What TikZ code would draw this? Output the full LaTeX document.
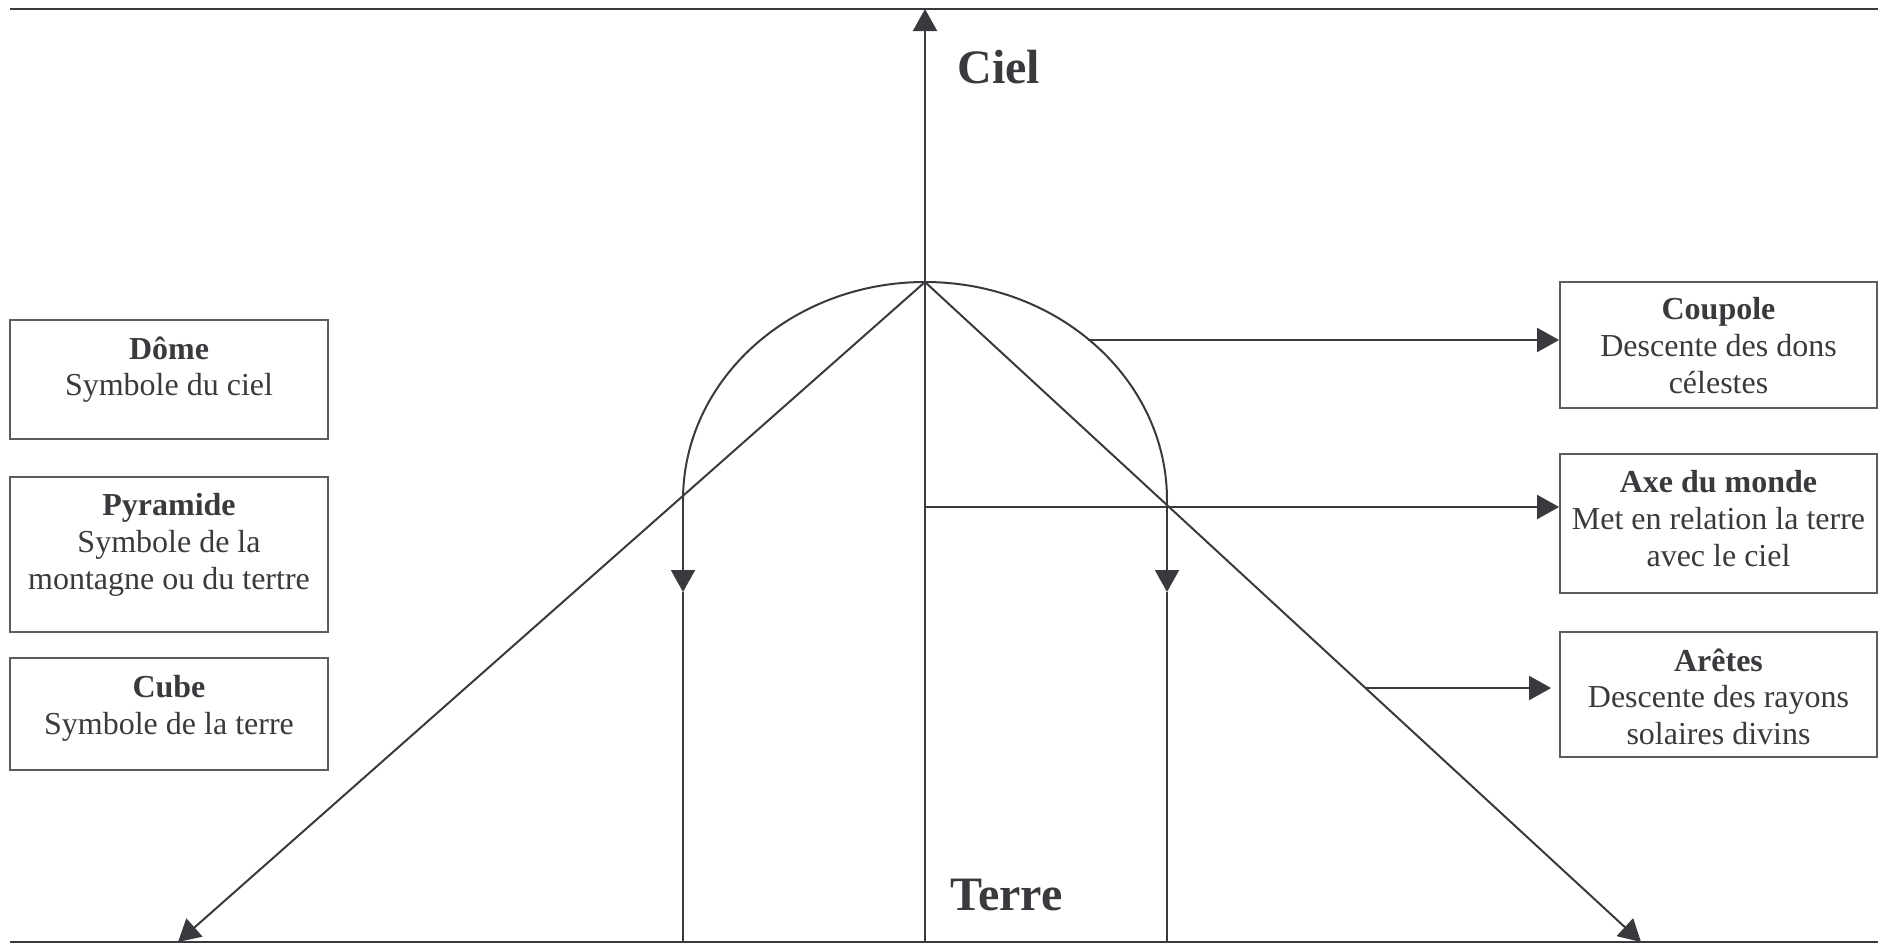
\documentclass[tikz,border=0pt]{standalone}
\usepackage{fontspec}
\setmainfont{Liberation Serif}
\usepackage{xcolor}
\usepackage{tikz}
\usetikzlibrary{positioning, arrows.meta}
\definecolor{inkgrey}{HTML}{3A3A3E}
\definecolor{framegrey}{HTML}{5C5C5E}

\begin{document}
\begin{tikzpicture}[
      x=0.5pt, y=-0.5pt,
      every node/.style={text=inkgrey},
      box/.style={draw=framegrey, line width=0.9pt, inner sep=0pt},
      boxtext/.style={inner sep=0pt, align=center, font=\fontsize{16}{18.4}\selectfont},
      pole/.style={inner sep=0pt, font=\fontsize{24}{28}\selectfont\bfseries},
      line/.style={draw=inkgrey, line width=1pt},
      arrow/.style={line, -{Triangle[length=11pt, width=12pt]}}
    ]
    \useasboundingbox (0,0) rectangle (1878,944);

    % ciel et terre
    \coordinate (skyW) at (10,9);
    \coordinate (skyE) at (1878,9);
    \coordinate (earthW) at (10,942);
    \coordinate (earthE) at (1878,942);
    \draw[line, line width=1.4pt] (skyW) -- (skyE);
    \draw[line, line width=1.4pt] (earthW) -- (earthE);
    \node[pole, anchor=base west] (ciel) at (957,83) {Ciel};
    \node[pole, anchor=base west] (terre) at (950,910) {Terre};

    % axe, dome et aretes
    \coordinate (axisfoot) at (925,942);
    \coordinate (axistop) at (925,9);
    \coordinate (apex) at (925,282);
    \coordinate (arcL) at (683,500);
    \coordinate (arcR) at (1167,500);
    \draw[arrow] (axisfoot) -- (axistop);
    \draw[line] (arcL) arc[start angle=180, end angle=360, x radius=242, y radius=218];
    \draw[arrow] (apex) -- (178,942) coordinate (edgeL);
    \draw[arrow] (apex) -- (1641,942) coordinate (edgeR);
    \draw[arrow] (arcL) -- (683,592) coordinate (dropL);
    \draw[line] (dropL) -- (683,942);
    \draw[arrow] (arcR) -- (1167,592) coordinate (dropR);
    \draw[line] (dropR) -- (1167,942);

    % legendes a gauche
    \node[box, minimum width=159pt, minimum height=59.5pt] (dome) at (169,379.5) {};
    \node[boxtext, below=8.5pt of dome.north] (dometxt) {\textbf{Dôme}\\Symbole du ciel};
    \node[box, minimum width=159pt, minimum height=77.5pt] (pyramide) at (169,554.5) {};
    \node[boxtext, below=8.5pt of pyramide.north] (pyramidetxt) {\textbf{Pyramide}\\Symbole de la\\montagne ou du tertre};
    \node[box, minimum width=159pt, minimum height=56pt] (cube) at (169,714) {};
    \node[boxtext, below=9pt of cube.north] (cubetxt) {\textbf{Cube}\\Symbole de la terre};

    % legendes a droite
    \node[box, minimum width=158.5pt, minimum height=63pt] (coupole) at (1718.5,345) {};
    \node[boxtext, below=8pt of coupole.north] (coupoletxt) {\textbf{Coupole}\\Descente des dons\\célestes};
    \node[box, minimum width=158.5pt, minimum height=69.5pt] (axe) at (1718.5,523.5) {};
    \node[boxtext, below=8.5pt of axe.north] (axetxt) {\textbf{Axe du monde}\\Met en relation la terre\\avec le ciel};
    \node[box, minimum width=158.5pt, minimum height=62.5pt] (aretes) at (1718.5,694.5) {};
    \node[boxtext, below=8.5pt of aretes.north] (aretestxt) {\textbf{Arêtes}\\Descente des rayons\\solaires divins};

    \coordinate (coupolefrom) at (1088,340);
    \coordinate (axefrom) at (925,507);
    \coordinate (aretesfrom) at (1366,688);
    \draw[arrow] (coupolefrom) -- (coupolefrom -| coupole.west);
    \draw[arrow] (axefrom) -- (axefrom -| axe.west);
    \draw[arrow, shorten >=4pt] (aretesfrom) -- (aretesfrom -| aretes.west);
  \end{tikzpicture}
\end{document}
